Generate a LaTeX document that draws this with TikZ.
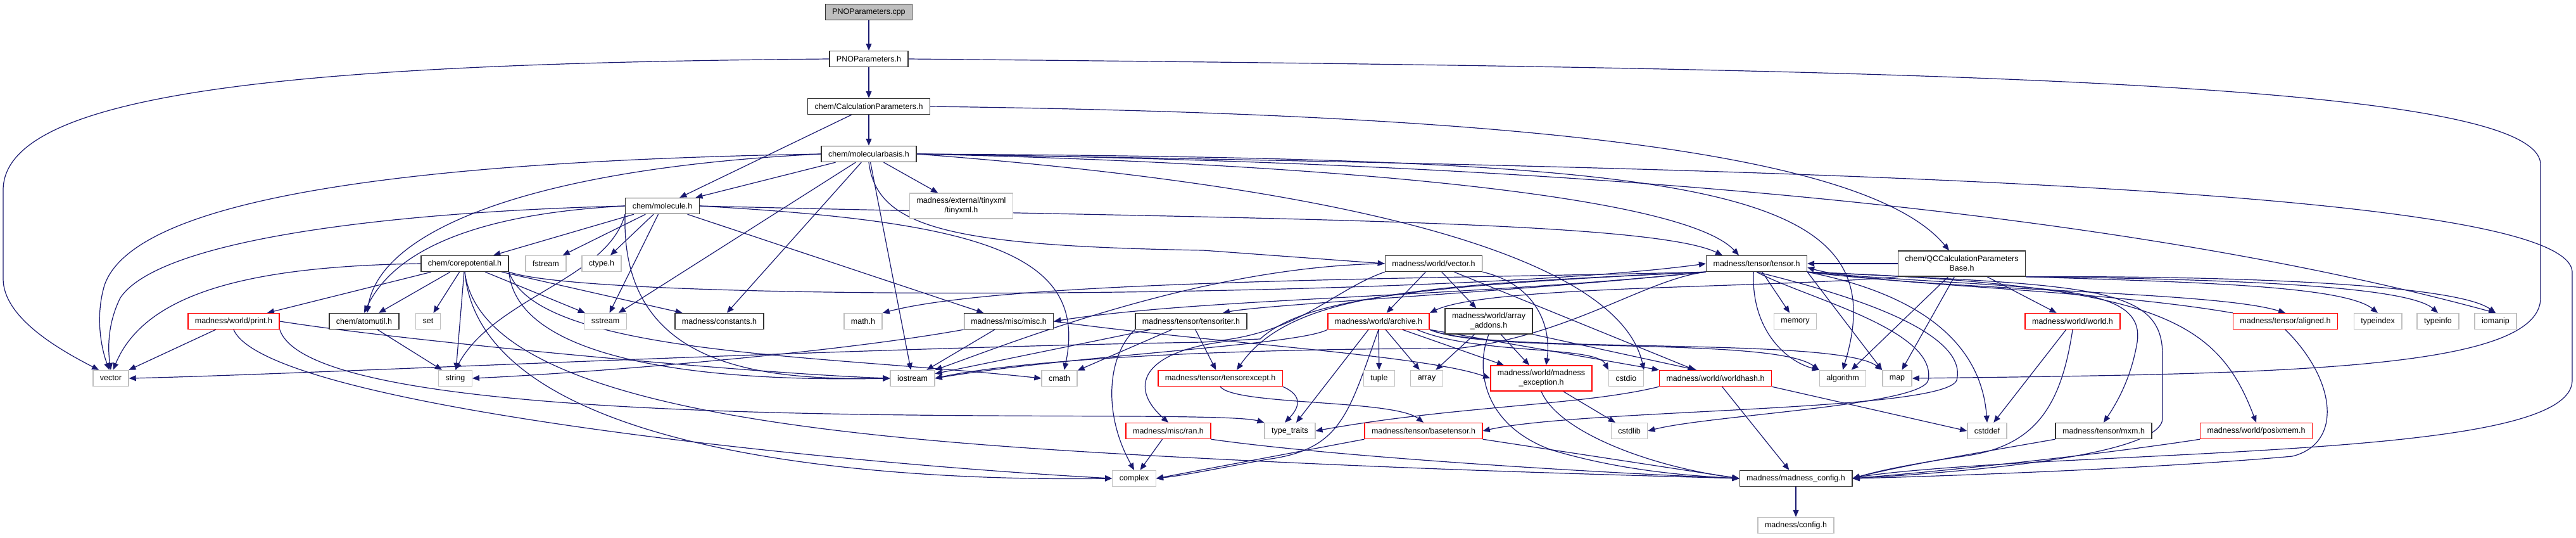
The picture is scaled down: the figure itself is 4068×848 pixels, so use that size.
\documentclass[tikz,border=0pt]{standalone}
\usepackage{fontspec}
\setmainfont{Liberation Sans}
\usetikzlibrary{arrows.meta}
\definecolor{edgec}{HTML}{191970}
\definecolor{boxgray}{HTML}{BFBFBF}
\pgfdeclarelayer{background}
\pgfsetlayers{background,main}
\newcommand\nodefont{\fontsize{6.25}{7.5}\selectfont}
\tikzset{
  nb/.style={draw=black!80, line width=0.7pt, fill=white, inner xsep=5.5pt, inner ysep=0pt,
             minimum height=12.5pt, font=\nodefont, align=center},
  ng/.style={nb, draw=boxgray},
  nr/.style={nb, draw=red},
  two/.style={minimum height=20pt},
  e/.style={draw=edgec, line width=0.6pt, -{Triangle[length=5.5pt,width=4.5pt]}},
}
\begin{document}
\begin{tikzpicture}[x=0.5pt,y=-0.5pt]
\useasboundingbox (0,0) rectangle (4068,848);
% nodes
\node[nb,fill=boxgray] (cpp) at (1372,19) {PNOParameters.cpp};
\node[nb] (pnoh) at (1372,93) {PNOParameters.h};
\node[nb] (calcp) at (1372,168) {chem/CalculationParameters.h};
\node[nb] (molb) at (1372,243) {chem/molecularbasis.h};
\node[nb] (mol) at (1046,325) {chem/molecule.h};
\node[ng,two] (tinyxml) at (1518,325) {madness/external/tinyxml\\/tinyxml.h};
\node[nb] (corepot) at (734,416) {chem/corepotential.h};
\node[ng] (fstream) at (862,416) {fstream};
\node[ng] (ctype) at (950,416) {ctype.h};
\node[nb] (vech) at (2264,416) {madness/world/vector.h};
\node[nb] (tensor) at (2774,416) {madness/tensor/tensor.h};
\node[nb,two] (qcb) at (3098,416) {chem/QCCalculationParameters\\Base.h};
\node[nr] (print) at (369,507) {madness/world/print.h};
\node[nb] (atomutil) at (575,507) {chem/atomutil.h};
\node[ng] (set) at (676,507) {set};
\node[ng] (sstream) at (956,507) {sstream};
\node[nb] (constants) at (1136,507) {madness/constants.h};
\node[ng] (mathh) at (1363,507) {math.h};
\node[nb] (misc) at (1593,507) {madness/misc/misc.h};
\node[nb] (titer) at (1881,507) {madness/tensor/tensoriter.h};
\node[nr] (archive) at (2177,507) {madness/world/archive.h};
\node[nb,two] (arrayadd) at (2351,507) {madness/world/array\\\_addons.h};
\node[ng] (memory) at (2835,507) {memory};
\node[nr] (world) at (3273,507) {madness/world/world.h};
\node[nr] (aligned) at (3609,507) {madness/tensor/aligned.h};
\node[ng] (typeindex) at (3755,507) {typeindex};
\node[ng] (typeinfo) at (3850,507) {typeinfo};
\node[ng] (iomanip) at (3941,507) {iomanip};
\node[ng] (vector) at (175,597) {vector};
\node[ng] (string) at (719,597) {string};
\node[ng] (iostream) at (1441,597) {iostream};
\node[ng] (cmath) at (1673,597) {cmath};
\node[nr] (texcept) at (1927,597) {madness/tensor/tensorexcept.h};
\node[ng] (tuple) at (2178,597) {tuple};
\node[ng] (array) at (2253,597) {array};
\node[nr,two] (mexc) at (2434,597) {madness/world/madness\\\_exception.h};
\node[ng] (cstdio) at (2568,597) {cstdio};
\node[nr] (whash) at (2709,597) {madness/world/worldhash.h};
\node[ng] (algorithm) at (2910,597) {algorithm};
\node[ng] (map) at (2996,597) {map};
\node[nr] (ran) at (1845,680) {madness/misc/ran.h};
\node[ng] (ttraits) at (2037,680) {type\_traits};
\node[nr] (basetensor) at (2248,680) {madness/tensor/basetensor.h};
\node[ng] (cstdlib) at (2573,680) {cstdlib};
\node[ng] (cstddef) at (3138,680) {cstddef};
\node[nb] (mxm) at (3322,680) {madness/tensor/mxm.h};
\node[nr] (posix) at (3563,680) {madness/world/posixmem.h};
\node[ng] (complex) at (1791,755) {complex};
\node[nb] (mconfig) at (2836,755) {madness/madness\_config.h};
\node[ng] (config) at (2836,829) {madness/config.h};

\begin{pgfonlayer}{background}
\fill[white] (0,0) rectangle (4068,848);
% top chain
\draw[e] (cpp) -- (pnoh);
\draw[e] (pnoh) -- (calcp);
\draw[e] (pnoh.west) .. controls (500,100) and (5,140) .. (5,300) -- (5,440) .. controls (5,500) and (90,550) .. (vector.145);
\draw[e] (pnoh.east) .. controls (3000,108) and (4012,125) .. (4012,260) -- (4012,470) .. controls (4012,585) and (3600,590) .. (map.east);
\draw[e] (calcp) -- (molb);
\draw[e] (calcp) -- (mol);
\draw[e] (calcp.east) .. controls (2400,180) and (2950,240) .. ([xshift=-10pt]qcb.north);
% molecularbasis
\draw[e] (molb) -- (mol);
\draw[e] (molb) -- (tinyxml);
\draw[e] (molb.west) .. controls (600,255) and (210,320) .. (165,450) .. controls (150,500) and (160,550) .. (vector.100);
\draw[e] (molb.west) .. controls (850,265) and (600,360) .. (atomutil.70);
\draw[e] (molb) -- (sstream);
\draw[e] (molb) -- (constants);
\draw[e] (molb) -- (iostream);
\draw[e] (molb.south) .. controls (1385,360) and (1500,388) .. (1900,395) -- (vech.west);
\draw[e] (molb.east) .. controls (2000,255) and (2650,300) .. ([xshift=-14pt]tensor.north);
\draw[e] (molb.east) .. controls (2700,250) and (3000,290) .. (algorithm.north);
\draw[e] (molb.east) .. controls (2200,300) and (2560,420) .. (cstdio.north east);
\draw[e] (molb.east) .. controls (2400,255) and (3300,320) .. (iomanip.north);
\draw[e] (molb.east) .. controls (2800,265) and (4062,295) .. (4062,430) -- (4062,600) .. controls (4062,690) and (3700,705) .. (3300,725) .. controls (3050,737) and (2960,748) .. (mconfig.east);
% molecule
\draw[e] (mol) -- (corepot);
\draw[e] (mol) -- (fstream);
\draw[e] (mol) -- (ctype);
\draw[e] (mol) -- (sstream);
\draw[e] (mol) -- (misc);
\draw[e] (mol.south west) .. controls (980,580) and (1200,600) .. (iostream.west);
\draw[e] (mol.east) .. controls (1550,350) and (1720,400) .. (cmath.60);
\draw[e] (mol.east) .. controls (1900,345) and (2600,345) .. ([xshift=-27pt]tensor.north);
\draw[e] (mol.west) .. controls (600,335) and (250,380) .. (190,470) .. controls (170,510) and (170,550) .. (vector.north);
\draw[e] (mol.west) .. controls (700,340) and (610,420) .. (atomutil.north);
\draw[e] (mol.south west) .. controls (960,440) and (780,470) .. (string.north);
% corepotential
\draw[e] (corepot) -- (atomutil);
\draw[e] (corepot) -- (set);
\draw[e] (corepot) -- (sstream);
\draw[e] (corepot) -- (constants);
\draw[e] (corepot) -- (string);
\draw[e] (corepot) -- (print);
\draw[e] (corepot.west) .. controls (400,420) and (230,460) .. (vector.75);
\draw[e] (corepot.south east) .. controls (820,600) and (1250,600) .. (iostream.west);
\draw[e] (corepot.south east) .. controls (850,560) and (1300,560) .. (cmath.west);
\draw[e] (corepot.south) .. controls (760,720) and (1400,760) .. (complex.west);
\draw[e] (corepot.south) .. controls (760,640) and (1300,690) .. (1800,718) .. controls (2200,740) and (2500,748) .. (mconfig.west);
\draw[e] (corepot.south east) .. controls (950,480) and (2300,470) .. (tensor.west);
% print, atomutil
\draw[e] (print) -- (vector);
\draw[e] (print.south) .. controls (420,640) and (1300,730) .. (complex.west);
\draw[e] (print.south east) .. controls (500,700) and (1900,640) .. (ttraits.north west);
\draw[e] (print.east) .. controls (650,540) and (1200,590) .. (iostream.west);
\draw[e] (atomutil) -- (string);
% misc, tensoriter
\draw[e] (misc) -- (iostream);
\draw[e] (misc.south west) .. controls (1300,560) and (900,590) .. (string.east);
\draw[e] (misc.east) .. controls (1900,540) and (2250,560) .. (mexc.west);
\draw[e] (titer) -- (texcept);
\draw[e] (titer) -- (cmath);
\draw[e] (titer) -- (iostream);
\draw[e] (titer.south west) .. controls (1750,560) and (1740,650) .. (complex.north);
\draw[e] (texcept.south east) .. controls (2060,625) and (2050,645) .. ([xshift=-4pt]ttraits.north);
\draw[e] (texcept.south) .. controls (1950,640) and (2200,630) .. (basetensor.north);
\draw[e] (ran) -- (complex);
\draw[e] (ran.south east) .. controls (2100,720) and (2500,745) .. (mconfig.west);
% world/vector.h
\draw[e] (vech.south west) .. controls (2100,460) and (2050,530) .. (1900,540) .. controls (1300,550) and (500,590) .. (vector.east);
\draw[e] (vech) -- (archive);
\draw[e] (vech) -- (arrayadd);
\draw[e] (vech.south east) .. controls (2430,450) and (2450,520) .. (mexc.70);
\draw[e] (vech) -- (whash);
\draw[e] (vech.west) .. controls (1900,420) and (1600,540) .. (iostream.north east);
% tensor
\draw[e] (tensor.south east) .. controls (3100,460) and (3500,460) .. (aligned.north);
\draw[e] (tensor) -- (memory);
\draw[e] (tensor.250) .. controls (2765,520) and (2820,570) .. (algorithm.north west);
\draw[e] (tensor.south east) -- (map.north west);
\draw[e] (tensor.south east) .. controls (3060,470) and (3130,560) .. (cstddef.north);
\draw[e] (tensor.south east) .. controls (3200,460) and (3390,440) .. (3375,540) .. controls (3365,600) and (3340,640) .. (mxm.north);
\draw[e] (tensor.south east) .. controls (3400,450) and (3500,500) .. (posix.north);
\draw[e] (tensor.south east) .. controls (3300,450) and (3415,450) .. (3415,560) -- (3415,660) .. controls (3415,720) and (3100,745) .. (mconfig.east);
\draw[e] (tensor.south west) .. controls (2400,460) and (2000,480) .. ([xshift=25pt]titer.north);
\draw[e] (tensor.south west) .. controls (2250,450) and (2040,460) .. ([xshift=13pt]texcept.north);
\draw[e] (tensor.south west) .. controls (2250,450) and (2060,470) .. (1990,535) .. controls (1820,540) and (1770,600) .. (ran.north);
\draw[e] (tensor.south) .. controls (2900,460) and (3110,520) .. (3090,600) .. controls (3070,650) and (2500,645) .. (basetensor.east);
\draw[e] (tensor.south) .. controls (2850,470) and (3060,520) .. (3045,600) .. controls (3035,640) and (2700,655) .. (cstdlib.east);
\draw[e] (tensor.south west) .. controls (2300,440) and (1600,440) .. (mathh.north east);
\draw[e] (tensor.south west) .. controls (2300,470) and (1900,470) .. (misc.east);
\draw[e] (tensor.south west) .. controls (2600,440) and (2480,530) .. (2300,550) .. controls (1900,550) and (1600,570) .. (iostream.east);
% QC base
\draw[e] (qcb.west) -- (tensor.east);
\draw[e] (qcb) -- (algorithm);
\draw[e] (qcb) -- (map);
\draw[e] (qcb) -- (world);
\draw[e] (qcb.south east) .. controls (3450,445) and (3700,450) .. (typeindex.north);
\draw[e] (qcb.south east) .. controls (3500,440) and (3800,450) .. (typeinfo.north);
\draw[e] (qcb.south east) .. controls (3550,435) and (3880,450) .. (iomanip.north);
\draw[e] (qcb.south west) .. controls (2800,455) and (2350,450) .. (archive.north east);
% world
\draw[e] (world) -- (cstddef);
\draw[e] (world.south) .. controls (3255,640) and (3215,705) .. (3100,720) .. controls (3000,735) and (2960,745) .. (mconfig.east);
% archive
\draw[e] (archive) -- (tuple);
\draw[e] (archive) -- (array);
\draw[e] (archive) -- (mexc);
\draw[e] ([xshift=-8pt]archive.south) -- ([xshift=5pt]ttraits.north);
\draw[e] (archive.south) .. controls (2130,650) and (2120,710) .. (2000,725) .. controls (1920,740) and (1870,750) .. (complex.east);
\draw[e] (archive.south west) .. controls (2050,545) and (1700,560) .. (iostream.east);
\draw[e] ([xshift=-10pt]archive.south east) .. controls (2330,560) and (2520,545) .. (cstdio.north west);
\draw[e] (archive.south east) -- (whash.north west);
\draw[e] (archive.south east) .. controls (2350,560) and (2800,530) .. (algorithm.north west);
\draw[e] (archive.south east) .. controls (2350,560) and (2900,530) .. (map.north west);
% array addons
\draw[e] (arrayadd) -- (array);
\draw[e] (arrayadd) -- (mexc);
\draw[e] (arrayadd.south east) -- ([xshift=-15pt]whash.north);
\draw[e] (arrayadd.south) .. controls (2330,580) and (2340,670) .. (2450,710) .. controls (2550,740) and (2650,750) .. (mconfig.west);
% lower nodes
\draw[e] (mexc) -- (cstdlib);
\draw[e] (mexc.south) .. controls (2460,680) and (2600,735) .. (mconfig.west);
\draw[e] (whash) -- (mconfig);
\draw[e] (whash.south east) -- (cstddef.west);
\draw[e] (whash.south west) .. controls (2500,640) and (2300,640) .. (ttraits.east);
\draw[e] (basetensor.south east) -- (mconfig.west);
\draw[e] (basetensor.south west) -- (complex.east);
\draw[e] (mxm.south west) .. controls (3150,710) and (3000,735) .. (mconfig.east);
\draw[e] (posix.south west) .. controls (3300,720) and (3050,745) .. (mconfig.east);
\draw[e] (aligned.south) .. controls (3690,600) and (3700,700) .. (3620,720) .. controls (3400,740) and (3050,752) .. (mconfig.east);
\draw[e] (aligned.north west) .. controls (3300,455) and (2950,450) .. ([yshift=-3pt]tensor.east);
\draw[e] (mconfig) -- (config);
\end{pgfonlayer}
\end{tikzpicture}
\end{document}
